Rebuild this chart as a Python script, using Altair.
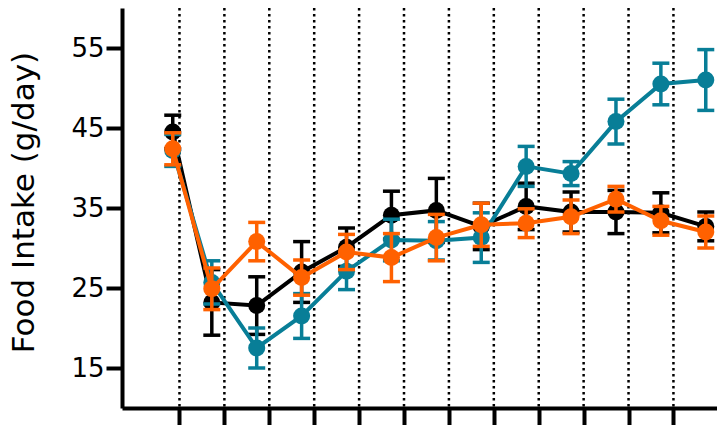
import altair as alt
import pandas as pd

# x positions of the 13 daily measurements and of the dotted day dividers
positions = [1.13, 2, 3, 4, 5, 6, 7, 8, 9, 10, 11, 12, 13]
dividers = [1.28, 2.28, 3.28, 4.28, 5.28, 6.28, 7.28, 8.28, 9.28, 10.28, 11.28, 12.28]
y_ticks = [15, 25, 35, 45, 55]

# mean food intake (g/day) and SEM per group
black_mean = [44.5, 23.2, 22.8, 27.0, 30.1, 34.1, 34.7, 32.7, 35.2, 34.5, 34.5, 34.4, 32.7]
black_sem = [2.1, 4.1, 3.6, 3.8, 2.4, 3.0, 4.0, 2.9, 2.9, 2.5, 2.7, 2.5, 1.8]

teal_mean = [42.2, 25.7, 17.5, 21.5, 27.1, 31.0, 30.9, 31.3, 40.2, 39.3, 45.8, 50.5, 51.0]
teal_sem = [2.0, 2.7, 2.5, 2.8, 2.3, 2.6, 2.4, 3.1, 2.5, 1.5, 2.8, 2.6, 3.8]

orange_mean = [42.4, 24.9, 30.8, 26.3, 29.5, 28.8, 31.3, 32.9, 33.1, 33.9, 36.1, 33.4, 32.0]
orange_sem = [2.0, 2.6, 2.4, 2.2, 2.2, 3.0, 2.9, 2.7, 1.8, 2.1, 1.6, 1.8, 2.0]

FONT = "DejaVu Sans"
x_scale = alt.Scale(domain=[0, 13.25], nice=False, zero=False)
y_scale = alt.Scale(domain=[10, 60], nice=False, zero=False)
x_axis = alt.Axis(values=dividers, labels=False, ticks=True, grid=False,
                  title=None, tickSize=18, domainWidth=4, tickWidth=4)
y_axis = alt.Axis(values=y_ticks, grid=False, title="Food Intake (g/day)",
                  tickSize=16, labelFontSize=26, labelPadding=2,
                  titleFontSize=31, titleX=-82, titleY=194,
                  domainWidth=4, tickWidth=4)


def group_layer(mean, sem, color):
    df = pd.DataFrame({"x": positions, "mean": mean, "sem": sem})
    base = alt.Chart(df).transform_calculate(
        lo="datum.mean - datum.sem", hi="datum.mean + datum.sem"
    )
    x = alt.X("x:Q", scale=x_scale, axis=x_axis)
    bars = base.mark_rule(color=color, strokeWidth=3.5).encode(
        x=x, y=alt.Y("lo:Q", scale=y_scale, axis=y_axis), y2="hi:Q"
    )
    cap_hi = base.mark_tick(color=color, orient="horizontal", size=17,
                            thickness=3.5, opacity=1).encode(
        x=x, y=alt.Y("hi:Q", scale=y_scale, axis=y_axis)
    )
    cap_lo = base.mark_tick(color=color, orient="horizontal", size=17,
                            thickness=3.5, opacity=1).encode(
        x=x, y=alt.Y("lo:Q", scale=y_scale, axis=y_axis)
    )
    line = base.mark_line(color=color, strokeWidth=4).encode(
        x=x, y=alt.Y("mean:Q", scale=y_scale, axis=y_axis)
    )
    dots = base.mark_circle(color=color, size=290, opacity=1).encode(
        x=x, y=alt.Y("mean:Q", scale=y_scale, axis=y_axis)
    )
    return bars + cap_hi + cap_lo + line + dots


day_lines = alt.Chart(pd.DataFrame({"x": dividers})).mark_rule(
    color="black", strokeDash=[2.5, 3.5], strokeWidth=2.5
).encode(x=alt.X("x:Q", scale=x_scale, axis=x_axis))

chart = alt.layer(
    day_lines,
    group_layer(black_mean, black_sem, "#000000"),
    group_layer(teal_mean, teal_sem, "#087e97"),
    group_layer(orange_mean, orange_sem, "#ff6100"),
).properties(
    width=595,
    height=400,
    autosize=alt.AutoSizeParams(type="none"),
    padding={"left": 122, "top": 8, "right": 0, "bottom": 17},
).configure_view(stroke=None).configure_axis(
    domainColor="black", tickColor="black", labelColor="black",
    titleColor="black", labelFont=FONT, titleFont=FONT,
    titleFontWeight="normal",
)

chart.save("out.html", embed_options={"renderer": "svg", "actions": False})
